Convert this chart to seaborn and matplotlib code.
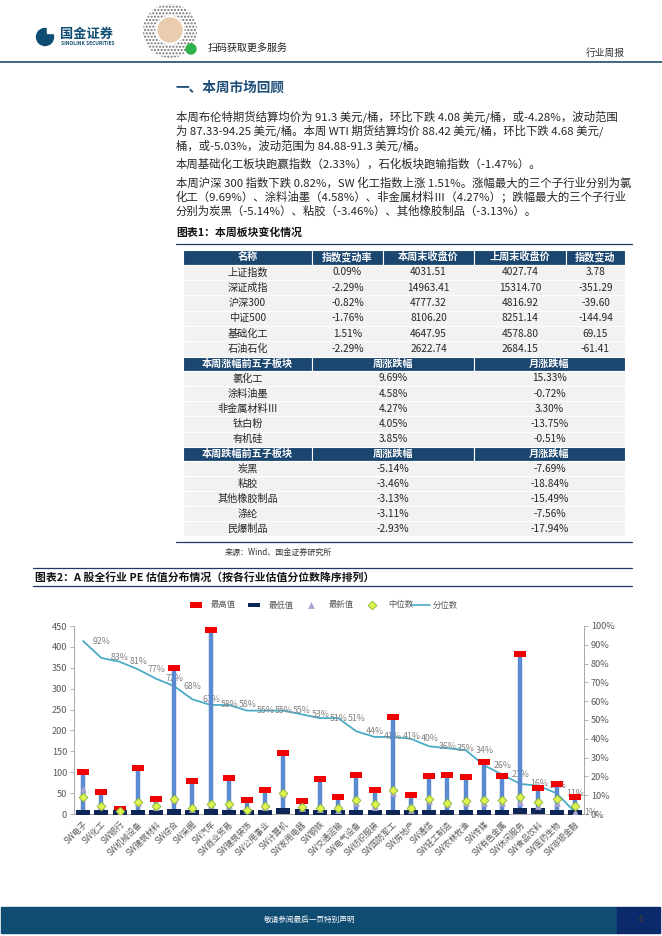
import numpy as np
import pandas as pd
import matplotlib
matplotlib.use('Agg')
import matplotlib.pyplot as plt
import seaborn as sns
from matplotlib.patches import Rectangle, Circle
from matplotlib.ticker import PercentFormatter

sns.set_theme(style='white')
plt.rcParams['font.family'] = ['Noto Sans CJK SC', 'DejaVu Sans']
plt.rcParams['axes.unicode_minus'] = False

# ---- data: table 1 ----
idx_names = ['上证指数', '深证成指', '沪深300', '中证500', '基础化工', '石油石化']
idx_chg = [0.09, -2.29, -0.82, -1.76, 1.51, -2.29]
idx_close = [4031.51, 14963.41, 4777.32, 8106.20, 4647.95, 2622.74]
idx_prev = [4027.74, 15314.70, 4816.92, 8251.14, 4578.80, 2684.15]
idx_diff = [3.78, -351.29, -39.60, -144.94, 69.15, -61.41]

up_names = ['氯化工', '涂料油墨', '非金属材料Ⅲ', '钛白粉', '有机硅']
up_week = [9.69, 4.58, 4.27, 4.05, 3.85]
up_month = [15.33, -0.72, 3.30, -13.75, -0.51]

down_names = ['炭黑', '粘胶', '其他橡胶制品', '涤纶', '民爆制品']
down_week = [-5.14, -3.46, -3.13, -3.11, -2.93]
down_month = [-7.69, -18.84, -15.49, -7.56, -17.94]

# ---- data: chart 2 ----
industries = ['SW电子', 'SW化工', 'SW银行', 'SW机械设备', 'SW建筑材料', 'SW综合', 'SW采掘',
              'SW汽车', 'SW商业贸易', 'SW建筑装饰', 'SW公用事业', 'SW计算机', 'SW家用电器',
              'SW钢铁', 'SW交通运输', 'SW电气设备', 'SW纺织服装', 'SW国防军工', 'SW房地产',
              'SW通信', 'SW轻工制造', 'SW农林牧渔', 'SW传媒', 'SW有色金属', 'SW休闲服务',
              'SW食品饮料', 'SW医药生物', 'SW非银金融']
pe_max = [100, 52, 11, 109, 36, 349, 78, 440, 86, 33, 57, 146, 30, 84,
          41, 93, 57, 232, 45, 91, 93, 89, 125, 92, 383, 63, 73, 40]
pe_min = [3, 3, 3, 3, 2, 4, 2, 4, 2, 2, 2, 6, 4, 2,
          2, 3, 3, 3, 2, 3, 3, 3, 3, 3, 6, 7, 3, 2]
pe_latest = [59, 18, 5, 27, 16, 34, 12, 21, 21, 9, 17, 49, 14, 12,
             10, 26, 16, 50, 10, 30, 23, 26, 27, 26, 29, 19, 27, 5]
pe_median = [41, 20, 6, 29, 18, 36, 14, 23, 23, 10, 19, 51, 16, 14,
             15, 33, 23, 57, 14, 35, 27, 30, 33, 33, 41, 29, 35, 18]
pe_pct = [0.92, 0.83, 0.81, 0.77, 0.72, 0.68, 0.61, 0.58, 0.58, 0.55, 0.55, 0.55, 0.53, 0.51,
          0.51, 0.44, 0.41, 0.41, 0.40, 0.36, 0.35, 0.34, 0.26, 0.21, 0.16, 0.15, 0.11, 0.01]

NAVY = '#0F4C73'
HDR = '#1B4670'
ROW = '#F2F2F2'
TXT = '#262626'

W, H = 662, 936
fig = plt.figure(figsize=(W / 100, H / 100), dpi=100)
page = fig.add_axes([0, 0, 1, 1])
page.set_xlim(0, W)
page.set_ylim(H, 0)
page.axis('off')

# ---- header ----
page.add_patch(Circle((45, 37), 8.5, color=NAVY))
page.add_patch(Rectangle((46.5, 26), 8, 6.5, color='white'))
page.text(60, 34, '国金证券', fontsize=9.5, fontweight='bold', color=NAVY, va='center')
page.text(61, 43.5, 'SINOLINK SECURITIES', fontsize=3.5, fontweight='bold', color=NAVY, va='center')
page.add_patch(Circle((170, 31), 27, facecolor='white', edgecolor='#707070', hatch='.....', lw=0))
page.add_patch(Circle((170, 30), 14, color='white'))
page.add_patch(Circle((170, 30), 12, color='#EACDAE'))
page.add_patch(Circle((191, 49), 5, color='#2DB34A'))
page.text(208, 48, '扫码获取更多服务', fontsize=7.2, va='center', color='#222222')
page.text(625, 53, '行业周报', fontsize=7, ha='right', va='center', color='#333333')
page.plot([0, W], [62, 62], color='#1F4E6E', lw=1.2)

page.text(175, 88, '一、本周市场回顾', fontsize=9.8, fontweight='bold', color='#1F4E79', va='center')

para = [
    (116.5, '本周布伦特期货结算均价为 91.3 美元/桶，环比下跌 4.08 美元/桶，或-4.28%，波动范围'),
    (131, '为 87.33-94.25 美元/桶。本周 WTI 期货结算均价 88.42 美元/桶，环比下跌 4.68 美元/'),
    (145.5, '桶，或-5.03%，波动范围为 84.88-91.3 美元/桶。'),
    (164, '本周基础化工板块跑赢指数（2.33%），石化板块跑输指数（-1.47%）。'),
    (182.5, '本周沪深 300 指数下跌 0.82%，SW 化工指数上涨 1.51%。涨幅最大的三个子行业分别为氯'),
    (197, '化工（9.69%）、涂料油墨（4.58%）、非金属材料Ⅲ（4.27%）；跌幅最大的三个子行业'),
    (211.5, '分别为炭黑（-5.14%）、粘胶（-3.46%）、其他橡胶制品（-3.13%）。'),
]
for y, s in para:
    page.text(176, y, s, fontsize=8.2, va='center', color=TXT)

# ---- table 1 ----
page.text(176, 233, '图表1：本周板块变化情况', fontsize=7.8, fontweight='bold', va='center', color='#111111')
page.plot([176, 632], [244, 244], color='#1F3864', lw=0.9)
page.plot([176, 632], [542, 542], color='#1F3864', lw=0.9)
page.text(225, 552, '来源：Wind、国金证券研究所', fontsize=5.8, va='center', color='#333333')

L, R = 183, 625


def header_row(y0, h, edges, labels):
    for j in range(len(edges) - 1):
        page.add_patch(Rectangle((edges[j], y0), edges[j + 1] - edges[j], h,
                                 facecolor=HDR, edgecolor='white', lw=0.8))
        page.text((edges[j] + edges[j + 1]) / 2, y0 + h / 2, labels[j], fontsize=7.3,
                  fontweight='bold', color='white', ha='center', va='center')


def data_row(y0, h, edges, labels):
    page.add_patch(Rectangle((L, y0), R - L, h, facecolor=ROW, edgecolor='white', lw=0.8))
    for j in range(len(edges) - 1):
        page.text((edges[j] + edges[j + 1]) / 2, y0 + h / 2, labels[j], fontsize=7.3,
                  color=TXT, ha='center', va='center')


e1 = [L, 312, 383, 474, 566, R]
e2 = [L, 312, 474, R]
y = 250
header_row(y, 14.5, e1, ['名称', '指数变动率', '本周末收盘价', '上周末收盘价', '指数变动'])
y += 14.5
for n, c, a, b, d in zip(idx_names, idx_chg, idx_close, idx_prev, idx_diff):
    data_row(y, 15.4, e1, [n, f'{c:.2f}%', f'{a:.2f}', f'{b:.2f}', f'{d:.2f}'])
    y += 15.4
header_row(y, 14, e2, ['本周涨幅前五子板块', '周涨跌幅', '月涨跌幅'])
y += 14
for n, w, m in zip(up_names, up_week, up_month):
    data_row(y, 15.2, e2, [n, f'{w:.2f}%', f'{m:.2f}%'])
    y += 15.2
header_row(y, 14.5, e2, ['本周跌幅前五子板块', '周涨跌幅', '月涨跌幅'])
y += 14.5
for n, w, m in zip(down_names, down_week, down_month):
    data_row(y, 15, e2, [n, f'{w:.2f}%', f'{m:.2f}%'])
    y += 15

# ---- chart 2 ----
page.plot([33, 632], [568, 568], color='#1F3864', lw=0.9)
page.plot([33, 632], [586, 586], color='#1F3864', lw=0.9)
page.text(35, 577, '图表2：A 股全行业 PE 估值分布情况（按各行业估值分位数降序排列）', fontsize=7.8,
          fontweight='bold', va='center', color='#111111')

df = pd.DataFrame({'pos': np.arange(len(industries)), 'name': industries, 'max': pe_max,
                   'min': pe_min, 'latest': pe_latest, 'median': pe_median, 'pct': pe_pct})

RED, DARK, BAR = '#F00000', '#0D2656', '#5A8ACF'
TRI, DIA_F, DIA_E, LINE = '#ABA3D3', '#DDF34E', '#86B33A', '#4BACC6'
dash_red = [(-1, -0.42), (1, -0.42), (1, 0.42), (-1, 0.42)]
dash_dark = [(-1, -0.38), (1, -0.38), (1, 0.38), (-1, 0.38)]

ax = fig.add_axes([74 / W, 1 - 814 / H, 510 / W, 188 / H])
ax2 = ax.twinx()

sns.lineplot(data=df, x='pos', y='pct', ax=ax2, color=LINE, lw=1.3)
for p, v in zip(df['pos'], df['pct']):
    ax2.annotate(f'{v:.0%}', (p, v), xytext=(7, 0), textcoords='offset points',
                 ha='left', va='center', fontsize=6.3, color='#808080')

ax.vlines(df['pos'], df['min'], df['max'], color=BAR, lw=3.2, zorder=2)
sns.scatterplot(data=df, x='pos', y='max', ax=ax, marker=dash_red, s=80, color=RED,
                linewidth=0, zorder=4, legend=False)
sns.scatterplot(data=df, x='pos', y='min', ax=ax, marker=dash_dark, s=100, color=DARK,
                linewidth=0, zorder=4, legend=False)
sns.scatterplot(data=df, x='pos', y='latest', ax=ax, marker='^', s=24, color=TRI,
                linewidth=0, zorder=5, legend=False)
sns.scatterplot(data=df, x='pos', y='median', ax=ax, marker='D', s=20, color=DIA_F,
                edgecolor=DIA_E, linewidth=0.6, zorder=6, legend=False)

ax.set_zorder(ax2.get_zorder() + 1)
ax.patch.set_visible(False)

ax.set_xlim(-0.5, len(industries) - 0.5)
ax.set_ylim(0, 450)
ax2.set_ylim(0, 1)
ax.set_yticks(range(0, 451, 50))
ax2.set_yticks(np.arange(0, 1.01, 0.1))
ax2.yaxis.set_major_formatter(PercentFormatter(1, decimals=0))
ax.set_xticks(df['pos'])
ax.set_xticklabels(df['name'], rotation=45, ha='right', va='top', rotation_mode='anchor')
ax.set_xticks(np.arange(-0.5, len(industries), 1), minor=True)
ax.set_xlabel('')
ax.set_ylabel('')
ax2.set_ylabel('')
ax.tick_params(axis='x', which='major', length=0, pad=4, labelsize=5.9, labelcolor='#595959')
ax.tick_params(axis='x', which='minor', length=3, width=0.6, color='#A6A6A6', direction='out')
ax.tick_params(axis='y', length=3, width=0.6, color='#A6A6A6', labelsize=6.6,
               labelcolor='#595959', left=True, direction='out', pad=2)
ax2.tick_params(axis='y', length=3, width=0.6, color='#A6A6A6', labelsize=6.6,
                labelcolor='#595959', right=True, direction='out', pad=2)
for s in ['top', 'right']:
    ax.spines[s].set_visible(False)
for s in ['top', 'left', 'bottom']:
    ax2.spines[s].set_visible(False)
for sp in [ax.spines['left'], ax.spines['bottom'], ax2.spines['right']]:
    sp.set_color('#A6A6A6')
    sp.set_linewidth(0.7)

# legend row
ly = 605
page.scatter([196], [ly], marker=dash_red, s=80, color=RED, linewidth=0)
page.text(211, ly, '最高值', fontsize=6, va='center', color='#595959')
page.scatter([254], [ly], marker=dash_dark, s=64, color=DARK, linewidth=0)
page.text(269, ly, '最低值', fontsize=6, va='center', color='#595959')
page.scatter([311], [ly], marker='^', s=24, color=TRI, linewidth=0)
page.text(329, ly, '最新值', fontsize=6, va='center', color='#595959')
page.scatter([372], [ly], marker='D', s=20, color=DIA_F, edgecolor=DIA_E, linewidth=0.6)
page.text(388, ly, '中位数', fontsize=6, va='center', color='#595959')
page.plot([411, 430], [ly, ly], color=LINE, lw=1.2)
page.text(433, ly, '分位数', fontsize=6, va='center', color='#595959')

# ---- footer ----
page.add_patch(Rectangle((1, 907), 616, 26, color='#0E4C72'))
page.add_patch(Rectangle((617, 907), 43, 26, color='#0B2A6B'))
page.text(310, 920, '敬请参阅最后一页特别声明', fontsize=5.5, color='white', ha='center', va='center')
page.text(640, 920, '4', fontsize=7, color='#3A3A3A', ha='center', va='center')

fig.savefig('out.png', dpi=100)
